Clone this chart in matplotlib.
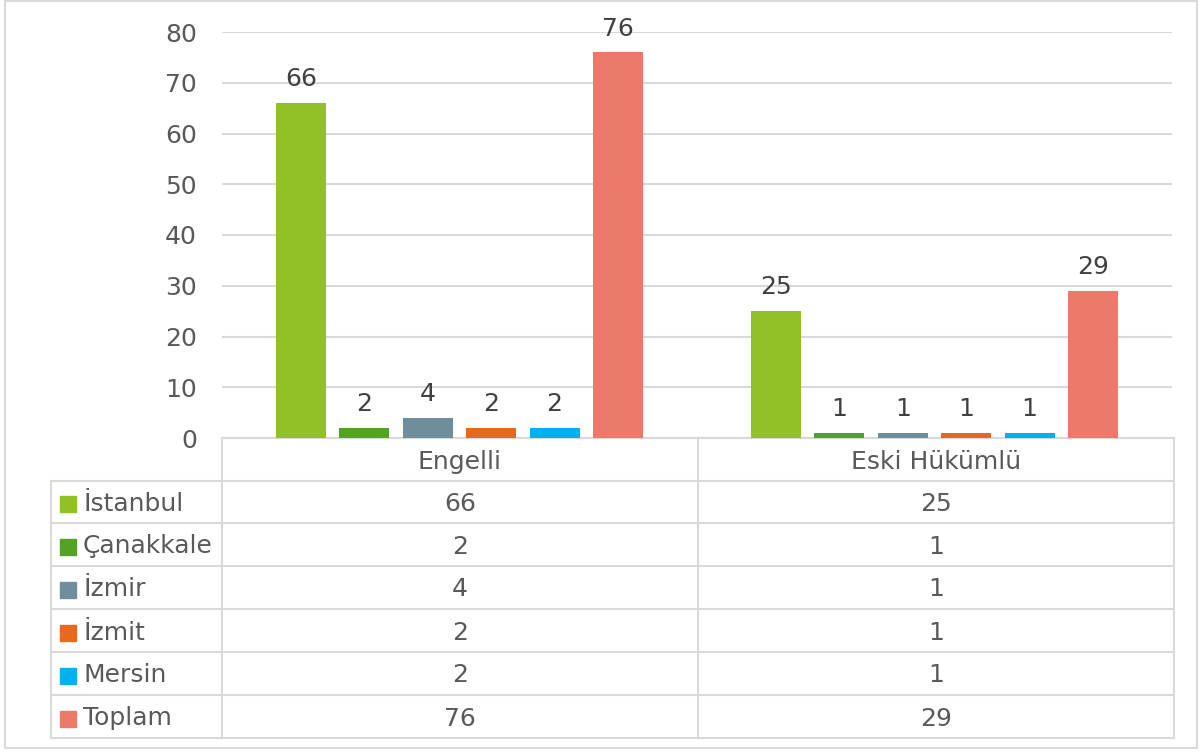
import matplotlib.pyplot as plt
import numpy as np

# veriler
groups = ['Engelli', 'Eski Hükümlü']
series = ['İstanbul', 'Çanakkale', 'İzmir', 'İzmit', 'Mersin', 'Toplam']
engelli = [66, 2, 4, 2, 2, 76]
eski_hukumlu = [25, 1, 1, 1, 1, 29]
colors = ['#92C027', '#52A226', '#6E8E9E', '#E8691C', '#00B0F0', '#EC7A6A']
yticks = [0, 10, 20, 30, 40, 50, 60, 70, 80]

TXT = '#595959'
GRID = '#D9D9D9'
FS = 18
plt.rcParams['font.family'] = ['DejaVu Sans']

W, H = 1202, 753
fig = plt.figure(figsize=(W / 100, H / 100), dpi=100)

# piksel koordinatlı katman (tablo ve çerçeve)
ov = fig.add_axes([0, 0, 1, 1], zorder=0)
ov.set_xlim(0, W)
ov.set_ylim(H, 0)
ov.axis('off')

# grafik alanı
x0, x1, ybot, ytop = 222, 1172, 438, 32
ax = fig.add_axes([x0 / W, 1 - ybot / H, (x1 - x0) / W, (ybot - ytop) / H], zorder=1)
ax.patch.set_alpha(0)

values = np.array([engelli, eski_hukumlu])
step = 0.1335
width = 0.105
gx = np.arange(len(groups))
for j, name in enumerate(series):
    xs = gx + (j - 2.5) * step
    bars = ax.bar(xs, values[:, j], width=width, color=colors[j], zorder=3)
    for b, v in zip(bars, values[:, j]):
        ax.annotate(str(v), (b.get_x() + b.get_width() / 2, v), xytext=(0, 12),
                    textcoords='offset points', ha='center', va='baseline',
                    fontsize=FS, color='#404040', annotation_clip=False)

ax.set_xlim(-0.5, 1.5)
ax.set_ylim(0, 80)
ax.set_yticks(yticks)
ax.set_yticklabels([str(t) for t in yticks], fontsize=FS, color=TXT)
ax.set_xticks([])
ax.grid(True, axis='y', color=GRID, linewidth=1.5, zorder=0)
for s in ax.spines.values():
    s.set_visible(False)
ax.tick_params(axis='y', length=0, pad=18)

# dış çerçeve
ov.plot([5, 1197, 1197, 5, 5], [1, 1, 748, 748, 1], color=GRID, lw=1.5)

# veri tablosu
lc = 51
c1, c2, c3 = 222, 698, 1174
rows = [438, 481, 523, 566, 609, 652, 695, 738]
lw = 1.5
ov.plot([c1, c3], [rows[0], rows[0]], color=GRID, lw=lw)
for r in rows[1:]:
    ov.plot([lc, c3], [r, r], color=GRID, lw=lw)
ov.plot([lc, lc], [rows[1], rows[-1]], color=GRID, lw=lw)
for c in (c1, c2, c3):
    ov.plot([c, c], [rows[0], rows[-1]], color=GRID, lw=lw)

hy = (rows[0] + rows[1]) / 2 + 9
ov.text((c1 + c2) / 2, hy, groups[0], ha='center', va='baseline', fontsize=FS, color=TXT)
ov.text((c2 + c3) / 2, hy, groups[1], ha='center', va='baseline', fontsize=FS, color=TXT)
for i, name in enumerate(series):
    yc = (rows[i + 1] + rows[i + 2]) / 2
    ov.add_patch(plt.Rectangle((60, yc - 6), 16, 16, color=colors[i]))
    ov.text(83, yc + 9, name, ha='left', va='baseline', fontsize=FS, color=TXT)
    ov.text((c1 + c2) / 2, yc + 9, str(engelli[i]), ha='center', va='baseline',
            fontsize=FS, color=TXT)
    ov.text((c2 + c3) / 2, yc + 9, str(eski_hukumlu[i]), ha='center', va='baseline',
            fontsize=FS, color=TXT)

fig.savefig('out.png', dpi=100)
